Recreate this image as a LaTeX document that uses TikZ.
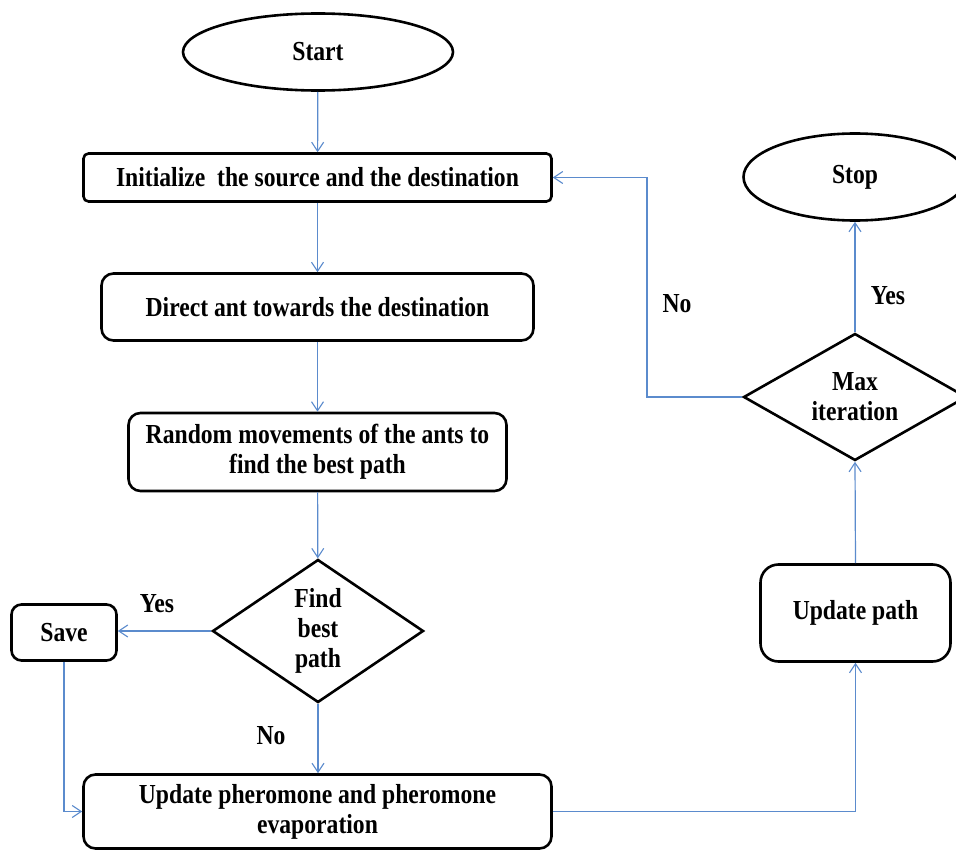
\documentclass[tikz,border=0pt]{standalone}
\usepackage{fontspec}
\setmainfont{Liberation Serif}
\newfontfamily\chartfont[FakeStretch=0.86]{Liberation Serif}
\usetikzlibrary{shapes.geometric,arrows.meta}
\definecolor{linkblue}{RGB}{91,139,205}
\begin{document}
\begin{tikzpicture}[x=1pt,y=-1pt,
  every node/.style={font=\chartfont\bfseries\fontsize{27.5}{30}\selectfont, inner sep=0pt, align=center},
  term/.style={ellipse, draw=black, line width=2.6pt},
  procbox/.style={rectangle, draw=black, line width=2.6pt, rounded corners=#1},
  procbox/.default=12pt,
  decision/.style={diamond, draw=black, line width=2.6pt},
  link/.style={draw=linkblue, line width=1.2pt, -{Straight Barb[length=9pt,width=12pt,line width=1.1pt]}},
  lbl/.style={}]
\useasboundingbox[fill=white] (0,0) rectangle (956,851);

\node[term, minimum width=270pt, minimum height=77pt] (start) at (318,52) {Start};
\node[procbox=5pt, minimum width=468pt, minimum height=48pt] (init) at (317.5,177.5) {Initialize\ \ the source and the destination};
\node[procbox, minimum width=432pt, minimum height=67pt] (direct) at (317.5,307) {Direct\ ant towards\ the destination};
\node[procbox, minimum width=378pt, minimum height=78pt] (random) at (317.5,452) {Random\ movements of the ants to\\ find\ the best path};
\node[decision, shape aspect=1.45, minimum width=211pt, minimum height=143pt] (find) at (318,631) {Find\\ best\\ path};
\node[procbox=10pt, minimum width=105pt, minimum height=56pt] (save) at (64,632.5) {Save};
\node[procbox, minimum width=468pt, minimum height=74pt] (pher) at (317.5,811.5) {Update pheromone\ and pheromone\\ evaporation};
\node[procbox=18pt, minimum width=190pt, minimum height=97pt] (upd) at (855.5,613) {Update path};
\node[decision, shape aspect=1.74, minimum width=223pt, minimum height=127pt] (max) at (855,397) {Max\\ iteration};
\node[term, minimum width=223pt, minimum height=87pt] (stop) at (855,177) {Stop};

\coordinate (bend) at (647,397);

\draw[link] (start) -- (init);
\draw[link] (init) -- (direct);
\draw[link] (direct) -- (random);
\draw[link] (random) -- (find);
\draw[link] (find.west) -- (find.west -| save.east);
\draw[link] (find.south) -- (find.south |- pher.north);
\draw[link] (save.south) |- (pher.west);
\draw[link] (pher.east) -| (upd.south);
\draw[link] (upd.north) -- (max.south);
\draw[link] (max.north) -- (stop.south);
\draw[link] (max.west) -- (bend) |- (init.east);

\node[lbl] (yes1) at (157,604) {Yes};
\node[lbl] (no1) at (271,736) {No};
\node[lbl] (no2) at (677,304) {No};
\node[lbl] (yes2) at (888,296) {Yes};
\end{tikzpicture}
\end{document}
